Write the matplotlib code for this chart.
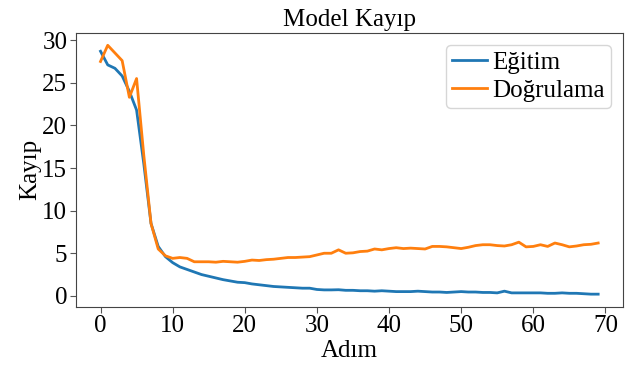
import matplotlib
matplotlib.use('Agg')
import matplotlib.pyplot as plt

plt.rcParams['font.family'] = ['Liberation Serif', 'DejaVu Serif']

steps = list(range(70))

egitim = [28.7, 27.1, 26.7, 25.8, 24.0, 21.8, 15.5, 8.5, 5.8, 4.6,
          3.9, 3.4, 3.1, 2.8, 2.5, 2.3, 2.1, 1.9, 1.75, 1.6,
          1.55, 1.4, 1.3, 1.2, 1.1, 1.05, 1.0, 0.95, 0.9, 0.9,
          0.75, 0.7, 0.7, 0.72, 0.65, 0.65, 0.6, 0.6, 0.55, 0.6,
          0.55, 0.5, 0.5, 0.5, 0.55, 0.5, 0.45, 0.45, 0.4, 0.45,
          0.5, 0.45, 0.45, 0.4, 0.4, 0.35, 0.55, 0.35, 0.35, 0.35,
          0.35, 0.35, 0.3, 0.3, 0.35, 0.3, 0.3, 0.25, 0.2, 0.2]

dogrulama = [27.5, 29.4, 28.5, 27.6, 23.3, 25.5, 16.5, 8.5, 5.5, 4.7,
             4.4, 4.5, 4.4, 4.0, 4.0, 4.0, 3.95, 4.05, 4.0, 3.95,
             4.05, 4.2, 4.15, 4.25, 4.3, 4.4, 4.5, 4.5, 4.55, 4.6,
             4.8, 5.0, 5.0, 5.4, 5.0, 5.05, 5.2, 5.25, 5.5, 5.4,
             5.55, 5.65, 5.55, 5.6, 5.55, 5.5, 5.8, 5.8, 5.75, 5.65,
             5.55, 5.7, 5.9, 6.0, 6.0, 5.9, 5.85, 6.0, 6.3, 5.75,
             5.8, 6.0, 5.8, 6.2, 6.0, 5.75, 5.85, 6.0, 6.05, 6.2]

fig, ax = plt.subplots(figsize=(6.41, 3.65), dpi=100)
ax.plot(steps, egitim, color='#1f77b4', lw=2, label='Eğitim')
ax.plot(steps, dogrulama, color='#ff7f0e', lw=2, label='Doğrulama')

ax.set_title('Model Kayıp', fontsize=18, pad=5)
ax.set_xlabel('Adım', fontsize=18, labelpad=2)
ax.set_ylabel('Kayıp', fontsize=18, labelpad=1)
ax.set_xticks(range(0, 71, 10))
ax.set_yticks(range(0, 31, 5))
ax.tick_params(labelsize=18, color='#555555', length=4, pad=2)
for s in ax.spines.values():
    s.set_color('#444444')
ax.legend(loc='upper right', fontsize=18, handlelength=1.4, handletextpad=0.2,
          borderpad=0.25, labelspacing=0.2, borderaxespad=0.5)

fig.subplots_adjust(left=0.118, right=0.972, top=0.91, bottom=0.16)
fig.savefig('out.png')
